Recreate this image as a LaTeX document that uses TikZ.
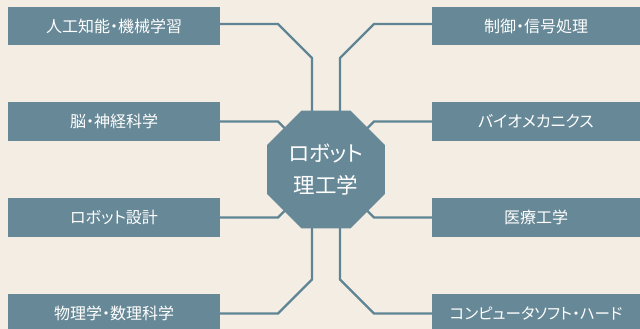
\documentclass[tikz,border=0pt]{standalone}
\usepackage{fontspec}
\newfontfamily\jpfont[RawFeature={+palt}]{Noto Sans CJK JP}
\usetikzlibrary{shapes.geometric}
\definecolor{bgc}{HTML}{F4EDE3}
\definecolor{boxc}{HTML}{678896}
\definecolor{linec}{HTML}{5F8595}
\tikzset{
  topic/.style={fill=boxc, text=white, minimum width=212pt, minimum height=38.5pt, inner sep=0pt,
    font=\jpfont\fontsize{16pt}{18pt}\selectfont},
  rtopic/.style={topic, minimum width=208pt},
  hub/.style={regular polygon, regular polygon sides=8, minimum size=127.7pt, fill=boxc, inner sep=0pt,
    text=white, align=center, font=\jpfont\fontsize{21.5pt}{32.5pt}\selectfont},
  conn/.style={draw=linec, line width=2.2pt}
}
\begin{document}
\begin{tikzpicture}[x=1pt,y=-1pt]
\useasboundingbox (0,0) rectangle (640,329);
\fill[bgc] (0,0) rectangle (640,329);
% topic boxes
\node[topic] (l1) at (114,26) {人工知能・機械学習};
\node[topic] (l2) at (114,121.5) {脳・神経科学};
\node[topic] (l3) at (114,217.5) {ロボット設計};
\node[topic] (l4) at (114,313.5) {物理学・数理科学};
\node[rtopic] (r1) at (536,26) {制御・信号処理};
\node[rtopic] (r2) at (536,121.5) {バイオメカニクス};
\node[rtopic] (r3) at (536,217.5) {医療工学};
\node[rtopic, font=\jpfont\fontsize{15.5pt}{18pt}\selectfont] (r4) at (536,313.5) {コンピュータソフト・ハード};
% bend points
\coordinate (cc) at (326,169.5);
\coordinate (a1) at (278,24);
\coordinate (a2) at (312,58);
\coordinate (b1) at (374,24);
\coordinate (b2) at (340,58);
\coordinate (a3) at (278,121.5);
\coordinate (b3) at (374,121.5);
\coordinate (a4) at (278,217.5);
\coordinate (b4) at (374,217.5);
\coordinate (a5) at (278,313.5);
\coordinate (a6) at (312,279.5);
\coordinate (b5) at (374,313.5);
\coordinate (b6) at (340,279.5);
% connectors
\draw[conn] ([yshift=2pt]l1.east) -- (a1) -- (a2) -- (a2 |- cc);
\draw[conn] ([yshift=2pt]r1.west) -- (b1) -- (b2) -- (b2 |- cc);
\draw[conn] (l2.east) -- (a3) -- (cc);
\draw[conn] (r2.west) -- (b3) -- (cc);
\draw[conn] (l3.east) -- (a4) -- (cc);
\draw[conn] (r3.west) -- (b4) -- (cc);
\draw[conn] (l4.east) -- (a5) -- (a6) -- (a6 |- cc);
\draw[conn] (r4.west) -- (b5) -- (b6) -- (b6 |- cc);
% hub
\node[hub] (hub) at (cc) {ロボット\\理工学};
\end{tikzpicture}
\end{document}
